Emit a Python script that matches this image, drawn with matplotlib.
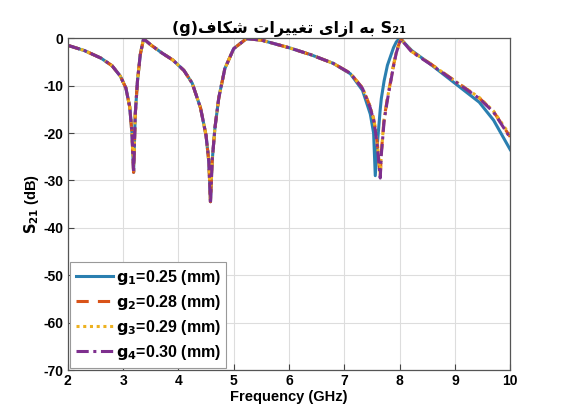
import matplotlib
matplotlib.use("Agg")
import matplotlib.pyplot as plt

# ---- data ----
freq_low = [2.0, 2.3, 2.6, 2.8, 2.95, 3.05, 3.12, 3.16, 3.19, 3.22, 3.26, 3.31, 3.37,
            3.5, 3.7, 3.9, 4.1, 4.25, 4.4, 4.5, 4.55, 4.58, 4.61, 4.66, 4.73, 4.84,
            5.0, 5.23, 5.5, 6.0, 6.4, 6.8]
freq_high = [7.11, 7.33, 7.47, 7.53, 7.56, 7.6, 7.65, 7.67, 7.72, 7.78, 7.89, 7.94,
             8.0, 8.03, 8.22, 8.56, 9.0, 9.44, 9.7, 10.0]
freq = freq_low + freq_high

low_common = [-1.5, -2.6, -4.2, -5.8, -8.0, -10.5, -14.5, -20.0, -28.3, -16.0, -9.0, -3.5, -0.1,
              -1.4, -3.1, -4.6, -6.8, -9.5, -14.7, -20.5, -26.0, -34.5, -26.0, -19.0, -12.6, -6.4,
              -2.2, -0.1, -0.4, -2.0, -3.5, -5.3]
low_g4 = [-1.5, -2.6, -4.2, -5.8, -8.0, -10.5, -14.5, -20.0, -28.5, -16.0, -9.0, -3.5, -0.1,
          -1.4, -3.1, -4.6, -6.8, -9.5, -14.7, -20.5, -26.0, -35.0, -26.0, -19.0, -12.6, -6.4,
          -2.2, -0.1, -0.4, -2.0, -3.5, -5.3]

g1_high = [-7.5, -11.0, -16.0, -20.0, -29.0, -22.0, -15.0, -12.7, -9.0, -5.7, -2.0, -0.8,
           0.0, -0.3, -2.6, -5.5, -9.5, -13.5, -17.3, -23.5]
g2_high = [-7.4, -10.5, -14.5, -17.0, -19.0, -22.5, -29.3, -24.0, -17.0, -12.7, -5.7, -3.0,
           -0.8, -0.2, -2.8, -5.4, -9.0, -12.6, -15.5, -20.8]
g3_high = [-7.4, -10.5, -14.5, -17.0, -19.0, -22.5, -29.0, -24.0, -17.0, -12.7, -5.7, -3.0,
           -0.8, -0.2, -2.8, -5.4, -9.0, -12.5, -15.4, -20.5]
g4_high = [-7.4, -10.6, -14.7, -17.3, -19.4, -23.0, -29.5, -24.5, -17.5, -13.0, -5.9, -3.1,
           -0.9, -0.3, -2.9, -5.5, -9.1, -12.7, -15.6, -21.0]

s21_g1 = low_common + g1_high
s21_g2 = low_common + g2_high
s21_g3 = low_common + g3_high
s21_g4 = low_g4 + g4_high

labels = [r"$\mathbf{g_1}$=0.25 (mm)", r"$\mathbf{g_2}$=0.28 (mm)",
          r"$\mathbf{g_3}$=0.29 (mm)", r"$\mathbf{g_4}$=0.30 (mm)"]
xticks = [2, 3, 4, 5, 6, 7, 8, 9, 10]
yticks = [0, -10, -20, -30, -40, -50, -60, -70]

# Persian title in visual order with presentation forms
w_beh = "\uFEEA\uFE91"
w_azaye = "\uFEEF\uFE8D\uFEAF\uFE8D"
w_taghyirat = "\uFE95\uFE8D\uFEAE\uFEF4\uFEF4\uFED0\uFE97"
w_shekaf = "\uFED1\uFE8E\uFB91\uFEB7"
title_text = "(g)" + w_shekaf + " " + w_taghyirat + " " + w_azaye + " " + w_beh + " S\u2082\u2081"

plt.rcParams['mathtext.fontset'] = 'dejavusans'
plt.rcParams['font.family'] = ['Liberation Sans', 'DejaVu Sans']

fig = plt.figure(figsize=(5.65, 4.2), dpi=100)
ax = fig.add_axes([0.120, 0.119, 0.783, 0.790])

ax.plot(freq, s21_g1, color='#2A7FB0', lw=2.2, ls='-', label=labels[0])
ax.plot(freq, s21_g2, color='#D95319', lw=2.2, ls=(0, (4, 3)), label=labels[1])
ax.plot(freq, s21_g3, color='#EDB120', lw=2.2, ls=(0, (1, 1.2)), label=labels[2])
ax.plot(freq, s21_g4, color='#7E2F8E', lw=2.2, ls=(0, (4, 1.5, 1, 1.5)), label=labels[3])

ax.set_xlim(2, 10)
ax.set_ylim(-70, 0)
ax.set_xticks(xticks)
ax.set_yticks(yticks)
ax.set_xticklabels([str(t) for t in xticks], fontweight='bold', fontsize=10)
ax.set_yticklabels([str(t) for t in yticks], fontweight='bold', fontsize=10)
ax.tick_params(direction='in', length=4, color='#444444', pad=3)
ax.grid(True, color='#dddddd', lw=0.8)
for sp in ax.spines.values():
    sp.set_color('#555555')
    sp.set_linewidth(0.9)

ax.set_xlabel("Frequency (GHz)", fontweight='bold', fontsize=10.5, labelpad=1)
ax.set_ylabel(r"$\mathbf{S_{21}}$ (dB)", fontweight='bold', fontsize=10.5, labelpad=2)
ax.set_title(title_text, fontweight='bold', fontsize=11.5, family=['DejaVu Sans'], pad=4)

leg = ax.legend(loc='lower left', prop={'weight': 'bold', 'size': 11.5},
                handlelength=2.3, fancybox=False, framealpha=1, edgecolor='#999999',
                borderaxespad=0.15, labelspacing=0.38, handletextpad=0.2,
                borderpad=0.35)
leg.get_frame().set_linewidth(0.8)

fig.savefig("out.png", dpi=100)
